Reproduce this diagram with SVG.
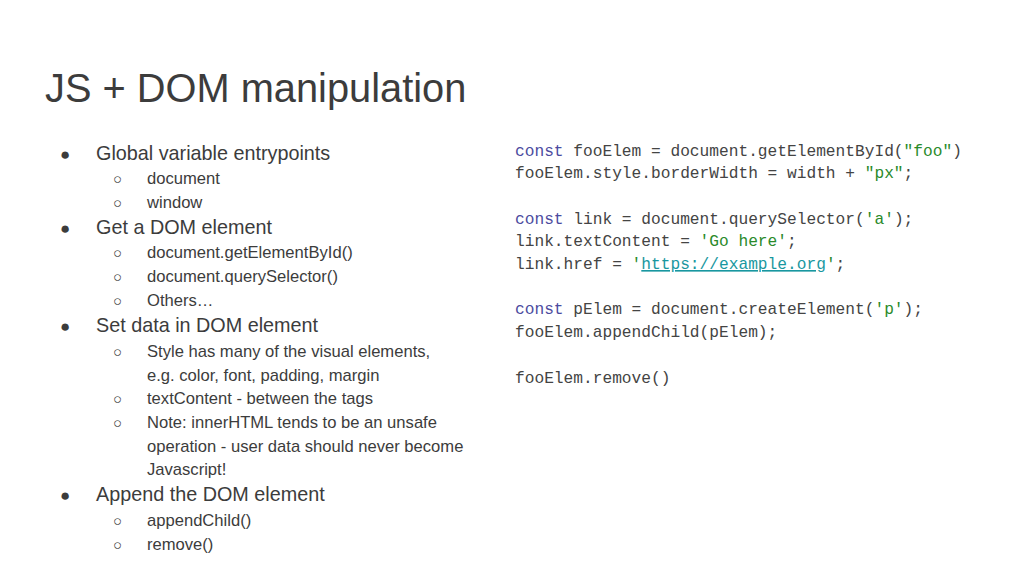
<svg xmlns="http://www.w3.org/2000/svg" width="1024" height="576" viewBox="0 0 1024 576">
<style>
.t{font-family:"Liberation Sans",Arial,sans-serif;fill:#3c3c3c}
.b1{font-size:19.8px}.b2{font-size:16.6px}
.c{font-family:"Liberation Mono","DejaVu Sans Mono",monospace;font-size:16.2px;fill:#444;white-space:pre}
.k{fill:#4b4ba0}.s{fill:#2a8a2a}.u{fill:#1997a0;text-decoration:underline}
</style>
<rect width="1024" height="576" fill="#fff"/>
<text class="t" x="45" y="102" font-size="39.8" fill="#222">JS + DOM manipulation</text>
<g id="bullets">
<g class="t b1"><text x="60" y="160" font-size="17">●</text><text x="96" y="160">Global variable entrypoints</text>
<text x="60" y="234" font-size="17">●</text><text x="96" y="234">Get a DOM element</text>
<text x="60" y="332" font-size="17">●</text><text x="96" y="332">Set data in DOM element</text>
<text x="60" y="501" font-size="17">●</text><text x="96" y="501">Append the DOM element</text></g>
<g class="t b2">
<text x="113" y="184" font-size="15">○</text><text x="147" y="184">document</text>
<text x="113" y="208" font-size="15">○</text><text x="147" y="208">window</text>
<text x="113" y="258" font-size="15">○</text><text x="147" y="258">document.getElementById()</text>
<text x="113" y="282" font-size="15">○</text><text x="147" y="282">document.querySelector()</text>
<text x="113" y="306" font-size="15">○</text><text x="147" y="306">Others…</text>
<text x="113" y="357" font-size="15">○</text><text x="147" y="357">Style has many of the visual elements,</text>
<text x="147" y="381">e.g. color, font, padding, margin</text>
<text x="113" y="404" font-size="15">○</text><text x="147" y="404">textContent - between the tags</text>
<text x="113" y="428" font-size="15">○</text><text x="147" y="428">Note: innerHTML tends to be an unsafe</text>
<text x="147" y="452">operation - user data should never become</text>
<text x="147" y="475">Javascript!</text>
<text x="113" y="526" font-size="15">○</text><text x="147" y="526">appendChild()</text>
<text x="113" y="550" font-size="15">○</text><text x="147" y="550">remove()</text>
</g>
</g>
<g id="code">
<text class="c" x="515" y="156"><tspan class="k">const</tspan> fooElem = document.getElementById(<tspan class="s">"foo"</tspan>)</text>
<text class="c" x="515" y="178">fooElem.style.borderWidth = width + <tspan class="s">"px"</tspan>;</text>
<text class="c" x="515" y="224"><tspan class="k">const</tspan> link = document.querySelector(<tspan class="s">'a'</tspan>);</text>
<text class="c" x="515" y="246">link.textContent = <tspan class="s">'Go here'</tspan>;</text>
<text class="c" x="515" y="269">link.href = <tspan class="s">'</tspan><tspan class="u">https://example.org</tspan><tspan class="s">'</tspan>;</text>
<text class="c" x="515" y="314"><tspan class="k">const</tspan> pElem = document.createElement(<tspan class="s">'p'</tspan>);</text>
<text class="c" x="515" y="337">fooElem.appendChild(pElem);</text>
<text class="c" x="515" y="383">fooElem.remove()</text>
</g>
</svg>
